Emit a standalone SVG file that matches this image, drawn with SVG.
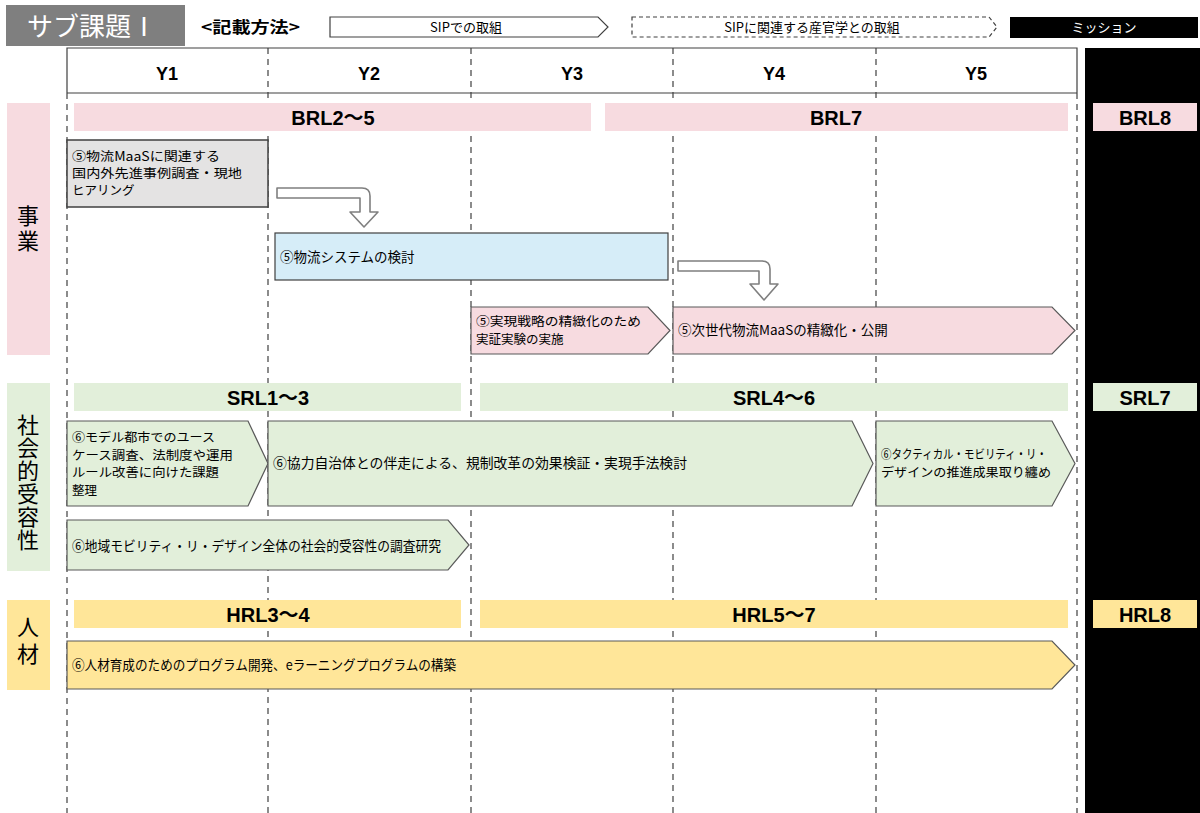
<svg xmlns="http://www.w3.org/2000/svg" width="1200" height="813" viewBox="0 0 1200 813">
<style>
text{font-family:"Noto Sans CJK JP","Liberation Sans",sans-serif;fill:#000}
.bx{font-size:13.5px}
.ml{font-size:12.5px}
.yr{font-size:18px;font-weight:bold;text-anchor:middle;font-family:"Liberation Sans","Noto Sans CJK JP",sans-serif}
.band{font-size:20px;font-weight:bold;text-anchor:middle;font-family:"Liberation Sans","Noto Sans CJK JP",sans-serif}
.vl{font-size:22px;writing-mode:vertical-rl}
.dash{stroke:#404040;stroke-width:1.2;stroke-dasharray:6,5;fill:none}
.shp{stroke:#595959;stroke-width:1.2}
.pk{fill:#f7dbe0}.gn{fill:#e2efda}.yl{fill:#ffe699}
.arr{fill:#fff;stroke:#7f7f7f;stroke-width:1.6;stroke-linejoin:round}
</style>
<rect width="1200" height="813" fill="#fff"/>
<g id="title">
<rect x="6" y="5" width="179" height="41" fill="#7f7f7f"/>
<text x="92" y="36" font-size="26" text-anchor="middle" style="fill:#fff">サブ課題Ⅰ</text>
</g>
<g id="legend">
<text x="201" y="33" font-size="16" font-weight="bold" textLength="99" lengthAdjust="spacingAndGlyphs">&lt;記載方法&gt;</text>
<path d="M330,17 H598 L608,27 L598,37 H330 Z" fill="#fff" stroke="#404040" stroke-width="1.2"/>
<text x="466" y="32" font-size="13" text-anchor="middle">SIPでの取組</text>
<path d="M632,17 H989 L997,27 L989,37 H632 Z" fill="#fff" stroke="#404040" stroke-width="1.2" stroke-dasharray="4,3"/>
<text x="812" y="32" font-size="13" text-anchor="middle">SIPに関連する産官学との取組</text>
<rect x="1010" y="17" width="188" height="21" fill="#000"/>
<text x="1104" y="32" font-size="13" text-anchor="middle" style="fill:#fff">ミッション</text>
</g>
<g id="mission-col">
<rect x="1085" y="48" width="115" height="765" fill="#000"/>
</g>
<g id="grid">
<line class="dash" x1="67" y1="93" x2="67" y2="813"/>
<line class="dash" x1="268" y1="48" x2="268" y2="813"/>
<line class="dash" x1="471" y1="48" x2="471" y2="813"/>
<line class="dash" x1="673" y1="48" x2="673" y2="813"/>
<line class="dash" x1="876" y1="48" x2="876" y2="813"/>
<line class="dash" x1="1077" y1="93" x2="1077" y2="813"/>
<path d="M67,93 V48 H1077 V93 M67,93 H1077" fill="none" stroke="#404040" stroke-width="1.2"/>
<text class="yr" x="167" y="80">Y1</text>
<text class="yr" x="369" y="80">Y2</text>
<text class="yr" x="572" y="80">Y3</text>
<text class="yr" x="774" y="80">Y4</text>
<text class="yr" x="976" y="80">Y5</text>
</g>
<g id="row-labels">
<rect x="7" y="103" width="43" height="252" class="pk"/>
<text class="vl" x="28" y="205" letter-spacing="3">事業</text>
<rect x="7" y="383" width="43" height="188" class="gn"/>
<text class="vl" x="28" y="414" letter-spacing="1">社会的受容性</text>
<rect x="7" y="600" width="43" height="90" class="yl"/>
<text class="vl" x="28" y="616" letter-spacing="5">人材</text>
</g>
<g id="bands">
<rect x="74" y="103" width="517" height="28" class="pk"/>
<text class="band" x="333" y="125">BRL2～5</text>
<rect x="605" y="103" width="463" height="28" class="pk"/>
<text class="band" x="836" y="125">BRL7</text>
<rect x="1093" y="103" width="104" height="28" class="pk"/>
<text class="band" x="1145" y="125">BRL8</text>
<rect x="74" y="383" width="387" height="28" class="gn"/>
<text class="band" x="268" y="405">SRL1～3</text>
<rect x="480" y="383" width="588" height="28" class="gn"/>
<text class="band" x="774" y="405">SRL4～6</text>
<rect x="1093" y="383" width="104" height="28" class="gn"/>
<text class="band" x="1145" y="405">SRL7</text>
<rect x="74" y="600" width="387" height="28" class="yl"/>
<text class="band" x="268" y="622">HRL3～4</text>
<rect x="480" y="600" width="588" height="28" class="yl"/>
<text class="band" x="774" y="622">HRL5～7</text>
<rect x="1093" y="600" width="104" height="28" class="yl"/>
<text class="band" x="1145" y="622">HRL8</text>
</g>
<g id="n-survey">
<rect x="67" y="140" width="201" height="67" fill="#e4e3e3" stroke="#404040" stroke-width="1.5"/>
<text class="ml" x="72" y="161" textLength="148" lengthAdjust="spacingAndGlyphs">⑤物流MaaSに関連する</text>
<text class="ml" x="72" y="178" textLength="170" lengthAdjust="spacingAndGlyphs">国内外先進事例調査・現地</text>
<text class="ml" x="72" y="195">ヒアリング</text>
</g>
<g id="n-system">
<rect x="275" y="233" width="393" height="47" fill="#d6edf8" stroke="#404040" stroke-width="1.2"/>
<text class="bx" x="280" y="262">⑤物流システムの検討</text>
</g>
<g id="n-demo">
<path class="shp pk" d="M471,307 H648 L670,330.5 L648,354 H471 Z"/>
<text class="ml" x="476" y="326" textLength="165" lengthAdjust="spacingAndGlyphs">⑤実現戦略の精緻化のため</text>
<text class="ml" x="476" y="344">実証実験の実施</text>
</g>
<g id="n-nextgen">
<path class="shp pk" d="M673,307 H1052 L1075,330.5 L1052,354 H673 Z"/>
<text class="bx" x="678" y="335">⑤次世代物流MaaSの精緻化・公開</text>
</g>
<g id="n-model">
<path class="shp gn" d="M67,421 H248 L268,463.5 L248,506 H67 Z"/>
<text class="ml" x="72" y="442" textLength="143" lengthAdjust="spacingAndGlyphs">⑥モデル都市でのユース</text>
<text class="ml" x="72" y="459.5" textLength="161" lengthAdjust="spacingAndGlyphs">ケース調査、法制度や運用</text>
<text class="ml" x="72" y="477" textLength="147" lengthAdjust="spacingAndGlyphs">ルール改善に向けた課題</text>
<text class="ml" x="72" y="494.5">整理</text>
</g>
<g id="n-coop">
<path class="shp gn" d="M268,421 H852 L873,463.5 L852,506 H268 Z"/>
<text class="bx" x="273" y="468" textLength="414" lengthAdjust="spacingAndGlyphs">⑥協力自治体との伴走による、規制改革の効果検証・実現手法検討</text>
</g>
<g id="n-tactical">
<path class="shp gn" d="M876,421 H1052 L1075,463.5 L1052,506 H876 Z"/>
<text class="ml" x="881" y="459" textLength="166" lengthAdjust="spacingAndGlyphs">⑥タクティカル・モビリティ・リ・</text>
<text class="ml" x="881" y="477" textLength="170" lengthAdjust="spacingAndGlyphs">デザインの推進成果取り纏め</text>
</g>
<g id="n-accept">
<path class="shp gn" d="M67,520 H448 L469,545 L448,570 H67 Z"/>
<text class="bx" x="72" y="551" textLength="369" lengthAdjust="spacingAndGlyphs">⑥地域モビリティ・リ・デザイン全体の社会的受容性の調査研究</text>
</g>
<g id="n-hr">
<path class="shp yl" d="M67,641 H1052 L1075,665 L1052,689 H67 Z"/>
<text class="bx" x="72" y="670" textLength="384" lengthAdjust="spacingAndGlyphs">⑥人材育成のためのプログラム開発、eラーニングプログラムの構築</text>
</g>
<g id="connectors">
<path class="arr" d="M277,188 H362 Q370,188 370,196 V212 H378 L364,227 L350,212 H360 V198 H277 Z"/>
<path class="arr" d="M678,261 H762 Q770,261 770,269 V284 H778 L764,300 L750,284 H759 V271 H678 Z"/>
</g>
</svg>
